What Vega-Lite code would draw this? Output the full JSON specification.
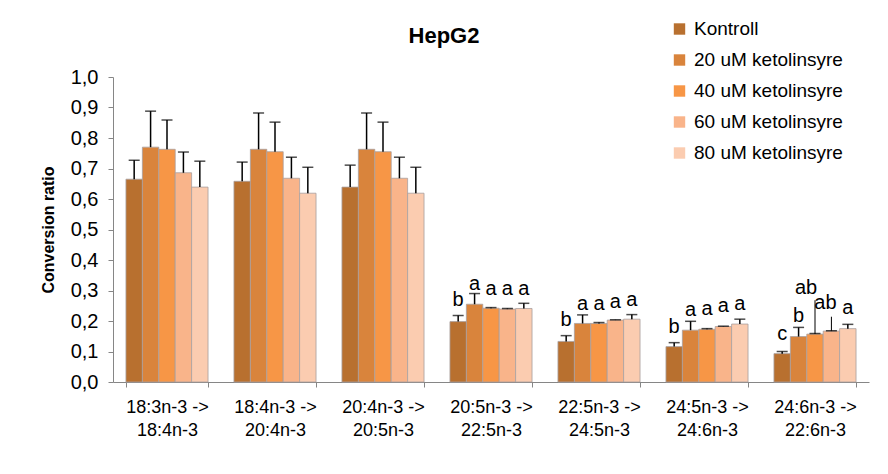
{
  "$schema": "https://vega.github.io/schema/vega-lite/v6.json",
  "autosize": "none",
  "width": 756,
  "height": 305,
  "padding": {"left": 113, "top": 77, "right": 19, "bottom": 92},
  "background": "white",
  "title": {"text": "HepG2", "fontSize": 22, "fontWeight": "bold", "font": "Liberation Sans", "color": "#000000", "anchor": "middle", "frame": "group", "dx": -47, "offset": 0, "dy": 45, "baseline": "alphabetic"},
  "config": {
    "view": {"stroke": null},
    "font": "Liberation Sans",
    "axisY": {"tickCount": 10, "format": ".1f", "grid": false},
    "locale": {"number": {"decimal": ",", "thousands": ".", "grouping": [3], "currency": ["", ""]}}
  },
  "data": {"values": [
    {"group": "18:3n-3 -> 18:4n-3", "treatment": "Kontroll", "value": 0.665, "err": 0.727, "label": "", "labelAt": null, "leaderTop": null},
    {"group": "18:3n-3 -> 18:4n-3", "treatment": "20 uM ketolinsyre", "value": 0.770, "err": 0.888, "label": "", "labelAt": null, "leaderTop": null},
    {"group": "18:3n-3 -> 18:4n-3", "treatment": "40 uM ketolinsyre", "value": 0.763, "err": 0.859, "label": "", "labelAt": null, "leaderTop": null},
    {"group": "18:3n-3 -> 18:4n-3", "treatment": "60 uM ketolinsyre", "value": 0.686, "err": 0.754, "label": "", "labelAt": null, "leaderTop": null},
    {"group": "18:3n-3 -> 18:4n-3", "treatment": "80 uM ketolinsyre", "value": 0.639, "err": 0.724, "label": "", "labelAt": null, "leaderTop": null},
    {"group": "18:4n-3 -> 20:4n-3", "treatment": "Kontroll", "value": 0.658, "err": 0.721, "label": "", "labelAt": null, "leaderTop": null},
    {"group": "18:4n-3 -> 20:4n-3", "treatment": "20 uM ketolinsyre", "value": 0.763, "err": 0.882, "label": "", "labelAt": null, "leaderTop": null},
    {"group": "18:4n-3 -> 20:4n-3", "treatment": "40 uM ketolinsyre", "value": 0.755, "err": 0.852, "label": "", "labelAt": null, "leaderTop": null},
    {"group": "18:4n-3 -> 20:4n-3", "treatment": "60 uM ketolinsyre", "value": 0.668, "err": 0.737, "label": "", "labelAt": null, "leaderTop": null},
    {"group": "18:4n-3 -> 20:4n-3", "treatment": "80 uM ketolinsyre", "value": 0.619, "err": 0.704, "label": "", "labelAt": null, "leaderTop": null},
    {"group": "20:4n-3 -> 20:5n-3", "treatment": "Kontroll", "value": 0.639, "err": 0.711, "label": "", "labelAt": null, "leaderTop": null},
    {"group": "20:4n-3 -> 20:5n-3", "treatment": "20 uM ketolinsyre", "value": 0.763, "err": 0.882, "label": "", "labelAt": null, "leaderTop": null},
    {"group": "20:4n-3 -> 20:5n-3", "treatment": "40 uM ketolinsyre", "value": 0.755, "err": 0.852, "label": "", "labelAt": null, "leaderTop": null},
    {"group": "20:4n-3 -> 20:5n-3", "treatment": "60 uM ketolinsyre", "value": 0.668, "err": 0.737, "label": "", "labelAt": null, "leaderTop": null},
    {"group": "20:4n-3 -> 20:5n-3", "treatment": "80 uM ketolinsyre", "value": 0.619, "err": 0.704, "label": "", "labelAt": null, "leaderTop": null},
    {"group": "20:5n-3 -> 22:5n-3", "treatment": "Kontroll", "value": 0.198, "err": 0.218, "label": "b", "labelAt": 0.268, "leaderTop": null},
    {"group": "20:5n-3 -> 22:5n-3", "treatment": "20 uM ketolinsyre", "value": 0.255, "err": 0.290, "label": "a", "labelAt": 0.320, "leaderTop": null},
    {"group": "20:5n-3 -> 22:5n-3", "treatment": "40 uM ketolinsyre", "value": 0.242, "err": 0.244, "label": "a", "labelAt": 0.306, "leaderTop": null},
    {"group": "20:5n-3 -> 22:5n-3", "treatment": "60 uM ketolinsyre", "value": 0.239, "err": 0.241, "label": "a", "labelAt": 0.306, "leaderTop": null},
    {"group": "20:5n-3 -> 22:5n-3", "treatment": "80 uM ketolinsyre", "value": 0.241, "err": 0.258, "label": "a", "labelAt": 0.306, "leaderTop": null},
    {"group": "22:5n-3 -> 24:5n-3", "treatment": "Kontroll", "value": 0.133, "err": 0.152, "label": "b", "labelAt": 0.203, "leaderTop": null},
    {"group": "22:5n-3 -> 24:5n-3", "treatment": "20 uM ketolinsyre", "value": 0.192, "err": 0.220, "label": "a", "labelAt": 0.255, "leaderTop": null},
    {"group": "22:5n-3 -> 24:5n-3", "treatment": "40 uM ketolinsyre", "value": 0.192, "err": 0.195, "label": "a", "labelAt": 0.255, "leaderTop": null},
    {"group": "22:5n-3 -> 24:5n-3", "treatment": "60 uM ketolinsyre", "value": 0.203, "err": 0.204, "label": "a", "labelAt": 0.263, "leaderTop": null},
    {"group": "22:5n-3 -> 24:5n-3", "treatment": "80 uM ketolinsyre", "value": 0.206, "err": 0.221, "label": "a", "labelAt": 0.268, "leaderTop": null},
    {"group": "24:5n-3 -> 24:6n-3", "treatment": "Kontroll", "value": 0.116, "err": 0.129, "label": "b", "labelAt": 0.181, "leaderTop": null},
    {"group": "24:5n-3 -> 24:6n-3", "treatment": "20 uM ketolinsyre", "value": 0.170, "err": 0.199, "label": "a", "labelAt": 0.236, "leaderTop": null},
    {"group": "24:5n-3 -> 24:6n-3", "treatment": "40 uM ketolinsyre", "value": 0.173, "err": 0.175, "label": "a", "labelAt": 0.238, "leaderTop": null},
    {"group": "24:5n-3 -> 24:6n-3", "treatment": "60 uM ketolinsyre", "value": 0.182, "err": 0.183, "label": "a", "labelAt": 0.249, "leaderTop": null},
    {"group": "24:5n-3 -> 24:6n-3", "treatment": "80 uM ketolinsyre", "value": 0.190, "err": 0.206, "label": "a", "labelAt": 0.255, "leaderTop": null},
    {"group": "24:6n-3 -> 22:6n-3", "treatment": "Kontroll", "value": 0.093, "err": 0.100, "label": "c", "labelAt": 0.159, "leaderTop": null},
    {"group": "24:6n-3 -> 22:6n-3", "treatment": "20 uM ketolinsyre", "value": 0.149, "err": 0.179, "label": "b", "labelAt": 0.217, "leaderTop": null},
    {"group": "24:6n-3 -> 22:6n-3", "treatment": "40 uM ketolinsyre", "value": 0.157, "err": 0.159, "label": "ab", "labelAt": 0.307, "leaderTop": 0.268},
    {"group": "24:6n-3 -> 22:6n-3", "treatment": "60 uM ketolinsyre", "value": 0.167, "err": 0.168, "label": "ab", "labelAt": 0.260, "leaderTop": 0.214},
    {"group": "24:6n-3 -> 22:6n-3", "treatment": "80 uM ketolinsyre", "value": 0.175, "err": 0.189, "label": "a", "labelAt": 0.243, "leaderTop": null}
  ]},
  "encoding": {
    "x": {
      "field": "group", "type": "nominal", "sort": null,
      "scale": {"paddingInner": 0.24, "paddingOuter": 0.12},
      "axis": {
        "title": null, "labelAngle": 0, "tickBand": "extent",
        "labelExpr": "datum.label ? [split(datum.label, ' -> ')[0] + ' ->', split(datum.label, ' -> ')[1]] : ''",
        "labelFontSize": 18, "labelLineHeight": 23.5, "labelPadding": 11, "labelColor": "#000000",
        "domainColor": "#868686", "tickColor": "#868686", "tickSize": 5, "labelBaseline": "top"
      }
    },
    "xOffset": {
      "field": "treatment", "type": "nominal",
      "sort": ["Kontroll", "20 uM ketolinsyre", "40 uM ketolinsyre", "60 uM ketolinsyre", "80 uM ketolinsyre"],
      "scale": {"paddingInner": 0, "paddingOuter": 0}
    }
  },
  "layer": [
    {
      "mark": {"type": "bar", "stroke": "#A8A0A0", "strokeWidth": 0.8},
      "encoding": {
        "y": {
          "field": "value", "type": "quantitative",
          "scale": {"domain": [0, 1], "nice": false},
          "axis": {
            "title": "Conversion ratio", "tickCount": 10,
            "format": ".1f", "grid": false, "labelFontSize": 20, "labelPadding": 10, "labelColor": "#000000",
            "domainColor": "#868686", "tickColor": "#868686", "tickSize": 5,
            "titleFontSize": 16, "titleFontWeight": "bold", "titleColor": "#000000", "titlePadding": 14
          }
        },
        "color": {
          "field": "treatment", "type": "nominal",
          "sort": ["Kontroll", "20 uM ketolinsyre", "40 uM ketolinsyre", "60 uM ketolinsyre", "80 uM ketolinsyre"],
          "scale": {"range": ["#B8702F", "#D9843C", "#F79646", "#F9B48A", "#FBCCB0"]},
          "legend": {
            "title": null, "orient": "none", "legendX": 557, "legendY": -57.5,
            "symbolType": "square", "symbolSize": 130, "symbolStrokeWidth": 0,
            "labelFontSize": 19, "labelColor": "#000000", "rowPadding": 11, "labelOffset": 5
          }
        }
      }
    },
    {
      "mark": {"type": "rule", "color": "#000000", "strokeWidth": 1.5},
      "encoding": {
        "y": {"field": "value", "type": "quantitative"},
        "y2": {"field": "err"}
      }
    },
    {
      "mark": {"type": "tick", "color": "#000000", "thickness": 1.5, "size": 11, "orient": "horizontal"},
      "encoding": {
        "y": {"field": "err", "type": "quantitative"}
      }
    },
    {
      "transform": [{"filter": "datum.label != '' && datum.leaderTop == null"}],
      "mark": {"type": "text", "fontSize": 20, "baseline": "middle", "color": "#000000"},
      "encoding": {
        "y": {"field": "labelAt", "type": "quantitative"},
        "text": {"field": "label"}
      }
    },
    {
      "transform": [{"filter": "datum.leaderTop != null && datum.treatment == '40 uM ketolinsyre'"}],
      "mark": {"type": "text", "fontSize": 20, "baseline": "middle", "color": "#000000", "dx": -9},
      "encoding": {
        "y": {"field": "labelAt", "type": "quantitative"},
        "text": {"field": "label"}
      }
    },
    {
      "transform": [{"filter": "datum.leaderTop != null && datum.treatment == '60 uM ketolinsyre'"}],
      "mark": {"type": "text", "fontSize": 20, "baseline": "middle", "color": "#000000", "dx": -6},
      "encoding": {
        "y": {"field": "labelAt", "type": "quantitative"},
        "text": {"field": "label"}
      }
    },
    {
      "transform": [{"filter": "datum.leaderTop != null && datum.treatment == '40 uM ketolinsyre'"}],
      "mark": {"type": "rule", "color": "#000000", "strokeWidth": 1, "xOffset": -8},
      "encoding": {
        "x2": {"field": "group", "bandPosition": 0.5},
        "y": {"field": "leaderTop", "type": "quantitative"},
        "y2": {"field": "err"}
      }
    },
    {
      "transform": [{"filter": "datum.leaderTop != null && datum.treatment == '60 uM ketolinsyre'"}],
      "mark": {"type": "rule", "color": "#000000", "strokeWidth": 1, "xOffset": -6},
      "encoding": {
        "x2": {"field": "group", "bandPosition": 0.7},
        "y": {"field": "leaderTop", "type": "quantitative"},
        "y2": {"field": "err"}
      }
    }
  ]
}
